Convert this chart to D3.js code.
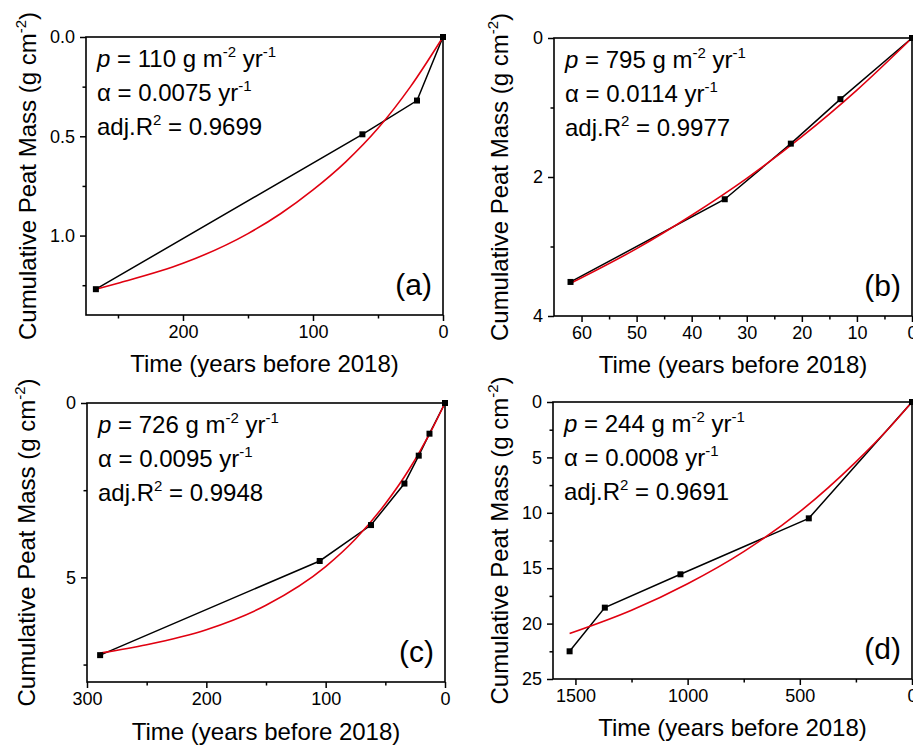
<!DOCTYPE html>
<html>
<head>
<meta charset="utf-8">
<script src="https://cdn.jsdelivr.net/npm/d3@7"></script>
<style>
  body { margin: 0; background: #fff; }
  svg { display: block; font-family: "Liberation Sans", Arial, sans-serif; }
</style>
</head>
<body>
<script>
// measured data (years before 2018, cumulative peat mass g cm-2)
var timeA = [0, 20, 62, 267];
var massA = [0, 0.32, 0.49, 1.27];
var fitTimeA = [0, 25, 50, 75, 100, 125, 150, 200, 250, 267];
var fitMassA = [0, 0.25, 0.46, 0.63, 0.77, 0.89, 0.99, 1.14, 1.24, 1.27];

var timeB = [0, 13, 22, 34, 62];
var massB = [0, 0.88, 1.52, 2.32, 3.51];
var fitTimeB = [0, 10, 20, 30, 40, 50, 62];
var fitMassB = [0, 0.75, 1.42, 2.02, 2.55, 3.03, 3.53];

var timeC = [0, 13, 22, 34, 62, 105, 289];
var massC = [0, 0.88, 1.51, 2.31, 3.50, 4.53, 7.23];
var fitTimeC = [0, 10, 20, 30, 50, 75, 100, 150, 200, 250, 289];
var fitMassC = [0, 0.69, 1.32, 1.90, 2.89, 3.90, 4.69, 5.80, 6.50, 6.93, 7.17];

var timeD = [0, 460, 1032, 1369, 1526];
var massD = [0, 10.5, 15.55, 18.56, 22.5];
var fitTimeD = [0, 100, 250, 500, 750, 1000, 1250, 1526];
var fitMassD = [0, 2.3, 5.4, 9.9, 13.5, 16.4, 18.8, 20.9];

// fit parameters shown in each panel
var panelLetters = ["a", "b", "c", "d"];
var pValues = ["110", "795", "726", "244"];
var alphaValues = ["0.0075", "0.0114", "0.0095", "0.0008"];
var r2Values = ["0.9699", "0.9977", "0.9948", "0.9691"];

// axis ticks
var xMajorTicks = [[0, 100, 200], [0, 10, 20, 30, 40, 50, 60], [0, 100, 200, 300], [0, 500, 1000, 1500]];
var xMinorTicks = [[50, 150, 250], [5, 15, 25, 35, 45, 55], [50, 150, 250], [250, 750, 1250]];
var yMajorTicks = [[0, 0.5, 1.0], [0, 2, 4], [0, 5], [0, 5, 10, 15, 20, 25]];
var yMinorTicks = [[0.25, 0.75, 1.25], [1, 3], [2.5, 7.5], [2.5, 7.5, 12.5, 17.5, 22.5]];
var xDomains = [[274.6, 0], [65, 0], [300, 0], [1600, 0]];
var yDomains = [[0, 1.4], [0, 4], [0, 8], [0, 25]];
var yFormats = [".1f", "d", "d", "d"];

var series = [
  {t: timeA, m: massA, ft: fitTimeA, fm: fitMassA},
  {t: timeB, m: massB, ft: fitTimeB, fm: fitMassB},
  {t: timeC, m: massC, ft: fitTimeC, fm: fitMassC},
  {t: timeD, m: massD, ft: fitTimeD, fm: fitMassD}
];

// panel boxes (pixels)
var boxes = [
  {left: 86, top: 37, w: 357, h: 278, ylab: 36, xlab: 57},
  {left: 554, top: 38, w: 358, h: 278, ylab: 508, xlab: 57},
  {left: 87, top: 403, w: 358, h: 279, ylab: 35, xlab: 58},
  {left: 553, top: 402, w: 359, h: 277, ylab: 508, xlab: 57}
];

var svg = d3.select("body").append("svg")
  .attr("width", 913)
  .attr("height", 746);

boxes.forEach(function(b, i) {
  var s = series[i];
  var x = d3.scaleLinear().domain(xDomains[i]).range([0, b.w]);
  var y = d3.scaleLinear().domain(yDomains[i]).range([0, b.h]);

  var g = svg.append("g").attr("transform", "translate(" + b.left + "," + b.top + ")");

  // minor ticks
  g.append("g").attr("class", "ax")
    .attr("transform", "translate(0," + b.h + ")")
    .call(d3.axisBottom(x).tickValues(xMinorTicks[i]).tickSize(3.5).tickFormat(""));
  g.append("g").attr("class", "ax")
    .call(d3.axisLeft(y).tickValues(yMinorTicks[i]).tickSize(3.5).tickFormat(""));

  // major ticks
  g.append("g").attr("class", "ax")
    .attr("transform", "translate(0," + b.h + ")")
    .call(d3.axisBottom(x).tickValues(xMajorTicks[i]).tickSize(6).tickPadding(4).tickFormat(d3.format("d")));
  g.append("g").attr("class", "ax")
    .call(d3.axisLeft(y).tickValues(yMajorTicks[i]).tickSize(6).tickPadding(5).tickFormat(d3.format(yFormats[i])));

  g.selectAll(".ax .domain").remove();
  g.selectAll(".ax line").attr("stroke", "#000").attr("stroke-width", 1.5);
  g.selectAll(".ax text").attr("font-size", 18).attr("fill", "#000")
    .attr("font-family", "Liberation Sans, Arial, sans-serif");

  // frame
  g.append("rect")
    .attr("width", b.w).attr("height", b.h)
    .attr("fill", "none").attr("stroke", "#000").attr("stroke-width", 1.6);

  // data line (black) and fit (red)
  var pts = s.t.map(function(d, k) { return [d, s.m[k]]; });
  var fit = s.ft.map(function(d, k) { return [d, s.fm[k]]; }).sort(function(p, q) { return q[0] - p[0]; });

  g.append("path")
    .datum(pts)
    .attr("fill", "none").attr("stroke", "#000").attr("stroke-width", 1.5)
    .attr("d", d3.line().x(function(d) { return x(d[0]); }).y(function(d) { return y(d[1]); }));

  g.append("path")
    .datum(fit)
    .attr("fill", "none").attr("stroke", "#e00010").attr("stroke-width", 1.6)
    .attr("d", d3.line().curve(d3.curveMonotoneX).x(function(d) { return x(d[0]); }).y(function(d) { return y(d[1]); }));

  g.selectAll("rect.pt").data(pts).enter().append("rect")
    .attr("class", "pt")
    .attr("x", function(d) { return x(d[0]) - 3; })
    .attr("y", function(d) { return y(d[1]) - 3; })
    .attr("width", 6).attr("height", 6)
    .attr("fill", "#000");

  // annotation
  var ann = g.append("text").attr("font-size", 24).attr("fill", "#000");
  var l1 = ann.append("tspan").attr("x", 11).attr("y", 30);
  l1.append("tspan").attr("font-style", "italic").text("p");
  l1.append("tspan").text(" = " + pValues[i] + " g m");
  l1.append("tspan").attr("font-size", 15).attr("dy", -10).text("-2");
  l1.append("tspan").attr("dy", 10).text(" yr");
  l1.append("tspan").attr("font-size", 15).attr("dy", -10).text("-1");

  var l2 = ann.append("tspan").attr("x", 11).attr("y", 64);
  l2.append("tspan").text("\u03b1 = " + alphaValues[i] + " yr");
  l2.append("tspan").attr("font-size", 15).attr("dy", -10).text("-1");

  var l3 = ann.append("tspan").attr("x", 11).attr("y", 97.5);
  l3.append("tspan").text("adj.R");
  l3.append("tspan").attr("font-size", 15).attr("dy", -10).text("2");
  l3.append("tspan").attr("dy", 10).text(" = " + r2Values[i]);

  // panel letter
  g.append("text")
    .attr("x", b.w - 11).attr("y", b.h - 20)
    .attr("text-anchor", "end").attr("font-size", 30)
    .text("(" + panelLetters[i] + ")");

  // x title
  g.append("text")
    .attr("x", b.w / 2).attr("y", b.h + b.xlab)
    .attr("text-anchor", "middle").attr("font-size", 24)
    .text("Time (years before 2018)");

  // y title
  var yt = svg.append("text")
    .attr("transform", "translate(" + b.ylab + "," + (b.top + b.h / 2) + ") rotate(-90)")
    .attr("text-anchor", "middle").attr("font-size", 24);
  yt.append("tspan").text("Cumulative Peat Mass (g cm");
  yt.append("tspan").attr("font-size", 15).attr("dy", -10).text("-2");
  yt.append("tspan").attr("dy", 10).text(")");
});
</script>
</body>
</html>
